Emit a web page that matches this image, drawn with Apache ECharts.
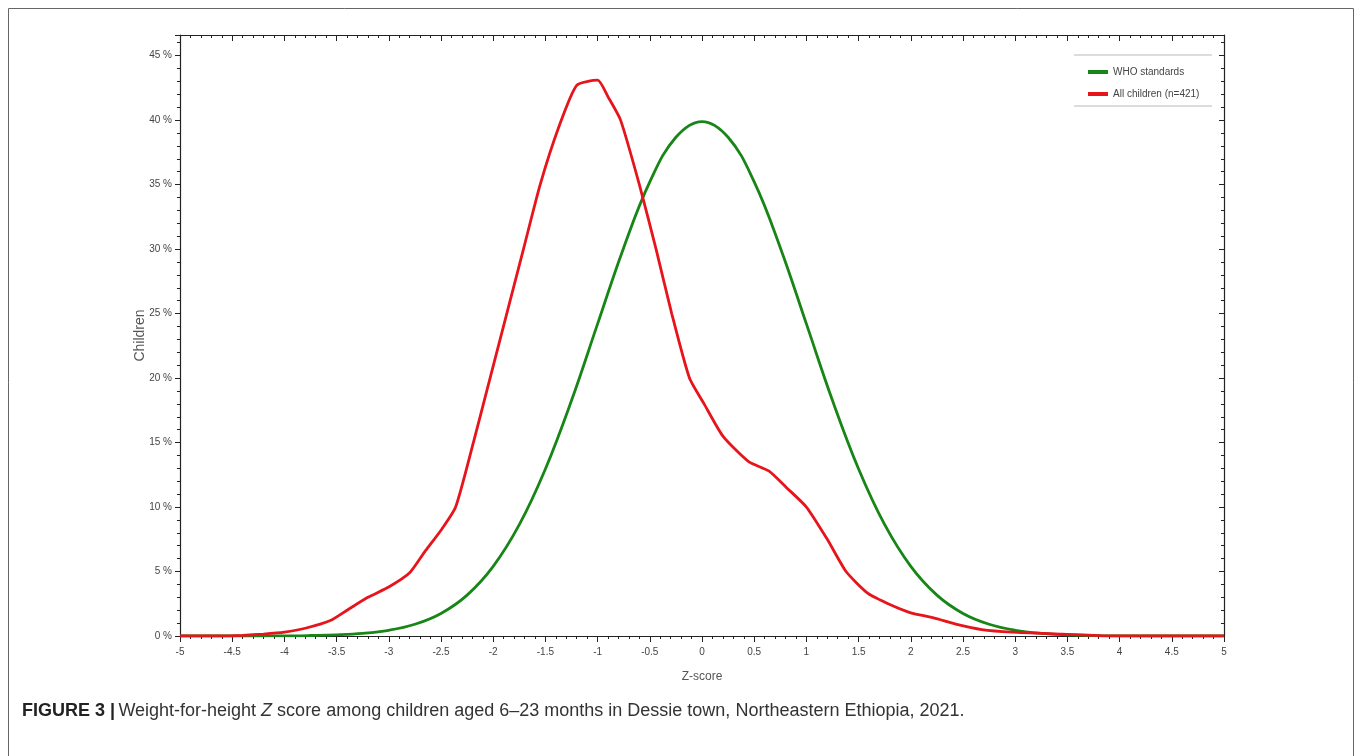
<!DOCTYPE html>
<html>
<head>
<meta charset="utf-8">
<script src="https://cdn.jsdelivr.net/npm/echarts@6/dist/echarts.min.js"></script>
<style>
html,body{margin:0;padding:0;background:#fff;}
#chart{width:1358px;height:756px;}
</style>
</head>
<body>
<div id="chart"></div>
<script>
// Z-score positions and percentages
const whoZ = [-5, -4.5, -4, -3.75, -3.5, -3.25, -3, -2.75, -2.5, -2.25, -2, -1.75, -1.5, -1.25, -1, -0.75, -0.5, -0.25, 0, 0.25, 0.5, 0.75, 1, 1.25, 1.5, 1.75, 2, 2.25, 2.5, 2.75, 3, 3.25, 3.5, 3.75, 4, 4.5, 5];
const whoPct = [0, 0, 0.01, 0.04, 0.09, 0.2, 0.44, 0.91, 1.75, 3.17, 5.4, 8.63, 12.95, 18.26, 24.2, 30.11, 35.21, 38.67, 39.89, 38.67, 35.21, 30.11, 24.2, 18.26, 12.95, 8.63, 5.4, 3.17, 1.75, 0.91, 0.44, 0.2, 0.09, 0.04, 0.01, 0, 0];

const allZ = [-5, -4.6, -4.4, -4.2, -4.0, -3.8, -3.56, -3.4, -3.2, -3.0, -2.8, -2.65, -2.5, -2.36, -2.19, -2.03, -1.87, -1.71, -1.55, -1.37, -1.2, -1.0, -0.9, -0.78, -0.6, -0.44, -0.29, -0.12, 0.02, 0.2, 0.45, 0.64, 0.81, 1.0, 1.2, 1.38, 1.59, 1.81, 2.0, 2.22, 2.44, 2.68, 2.97, 3.45, 3.93, 5];
const allPct = [0, 0, 0.05, 0.15, 0.3, 0.6, 1.2, 2.0, 3.0, 3.8, 4.9, 6.6, 8.2, 10, 15, 20, 25, 30, 35, 39.5, 42.7, 43.1, 41.8, 40, 35, 30, 25, 20, 18, 15.5, 13.5, 12.8, 11.5, 10, 7.5, 5, 3.3, 2.4, 1.8, 1.4, 0.9, 0.5, 0.3, 0.15, 0, 0];

const seriesNames = ['WHO standards', 'All children (n=421)'];
const xName = 'Z-score';
const yName = 'Children';

const whoData = whoZ.map((z, i) => [z, whoPct[i]]);
const allData = allZ.map((z, i) => [z, allPct[i]]);

const chart = echarts.init(document.getElementById('chart'), null, {renderer: 'canvas'});

const FF = 'Liberation Sans, Arial, sans-serif';
const lineStyleAxis = {color: '#222', width: 1.2};

chart.setOption({
  animation: false,
  backgroundColor: '#fff',
  grid: {left: 180, right: 134, top: 35, bottom: 120, containLabel: false},
  legend: {
    orient: 'vertical',
    left: 1083,
    top: 62,
    itemWidth: 20,
    itemHeight: 4,
    itemGap: 12,
    icon: 'rect',
    textStyle: {color: '#444', fontSize: 10, fontFamily: FF},
    data: seriesNames
  },
  xAxis: [{
    type: 'value', min: -5, max: 5, interval: 0.5, position: 'bottom',
    name: xName, nameLocation: 'middle', nameGap: 35, nameMoveOverlap: false,
    nameTextStyle: {color: '#555', fontSize: 12, fontFamily: FF},
    axisLine: {show: true, onZero: false, lineStyle: lineStyleAxis},
    axisTick: {show: true, length: 6, lineStyle: {color: '#222'}},
    minorTick: {show: true, splitNumber: 5, length: 3, lineStyle: {color: '#222'}},
    axisLabel: {margin: 11, color: '#444', fontSize: 10, fontFamily: FF},
    splitLine: {show: false}
  }, {
    type: 'value', min: -5, max: 5, interval: 0.5, position: 'top',
    axisLine: {show: true, onZero: false, lineStyle: lineStyleAxis},
    axisTick: {show: true, inside: true, length: 6, lineStyle: {color: '#222'}},
    minorTick: {show: true, splitNumber: 5, length: 3, lineStyle: {color: '#222'}},
    axisLabel: {show: false},
    splitLine: {show: false}
  }],
  yAxis: [{
    type: 'value', min: 0, max: 46.6, interval: 5, position: 'left',
    name: yName, nameLocation: 'middle', nameGap: 33, nameRotate: 90, nameMoveOverlap: false,
    nameTextStyle: {color: '#555', fontSize: 14, fontFamily: FF},
    axisLine: {show: true, onZero: false, lineStyle: lineStyleAxis},
    axisTick: {show: true, length: 5, lineStyle: {color: '#222'}},
    minorTick: {show: true, splitNumber: 5, length: 3, lineStyle: {color: '#222'}},
    axisLabel: {margin: 8, showMaxLabel: false, formatter: v => (v % 5 === 0 ? v + ' %' : ''), color: '#444', fontSize: 10, fontFamily: FF},
    splitLine: {show: false}
  }, {
    type: 'value', min: 0, max: 46.6, interval: 5, position: 'right',
    axisLine: {show: true, onZero: false, lineStyle: lineStyleAxis},
    axisTick: {show: true, inside: true, length: 5, lineStyle: {color: '#222'}},
    minorTick: {show: true, splitNumber: 5, length: 3, lineStyle: {color: '#222'}},
    axisLabel: {show: false},
    splitLine: {show: false}
  }],
  series: [{
    name: seriesNames[0], type: 'line', data: whoData, smooth: 0.4, symbol: 'none',
    lineStyle: {color: '#178617', width: 2.8}, itemStyle: {color: '#178617'}, z: 2
  }, {
    name: seriesNames[1], type: 'line', data: allData, smooth: 0.2, symbol: 'none',
    lineStyle: {color: '#e8141c', width: 2.8}, itemStyle: {color: '#e8141c'}, z: 3
  }],
  graphic: [
    {type: 'rect', shape: {x: 8.5, y: 8.5, width: 1345, height: 800}, style: {fill: 'none', stroke: '#666', lineWidth: 1}, silent: true},
    {type: 'line', shape: {x1: 1074, y1: 55, x2: 1212, y2: 55}, style: {stroke: '#d0d0d0', lineWidth: 1.5}, silent: true},
    {type: 'line', shape: {x1: 1074, y1: 106, x2: 1212, y2: 106}, style: {stroke: '#d0d0d0', lineWidth: 1.5}, silent: true},
    {type: 'text', left: 22, top: 702, silent: true,
      style: {
        text: '{b|FIGURE 3 |} {n|Weight-for-height }{i|Z}{n| score among children aged 6–23 months in Dessie town, Northeastern Ethiopia, 2021.}',
        rich: {
          b: {fontWeight: 'bold', fontSize: 18, fontFamily: FF, fill: '#222'},
          n: {fontSize: 18, fontFamily: FF, fill: '#333'},
          i: {fontStyle: 'italic', fontSize: 18, fontFamily: FF, fill: '#333'}
        }
      }
    }
  ]
});
</script>
</body>
</html>
